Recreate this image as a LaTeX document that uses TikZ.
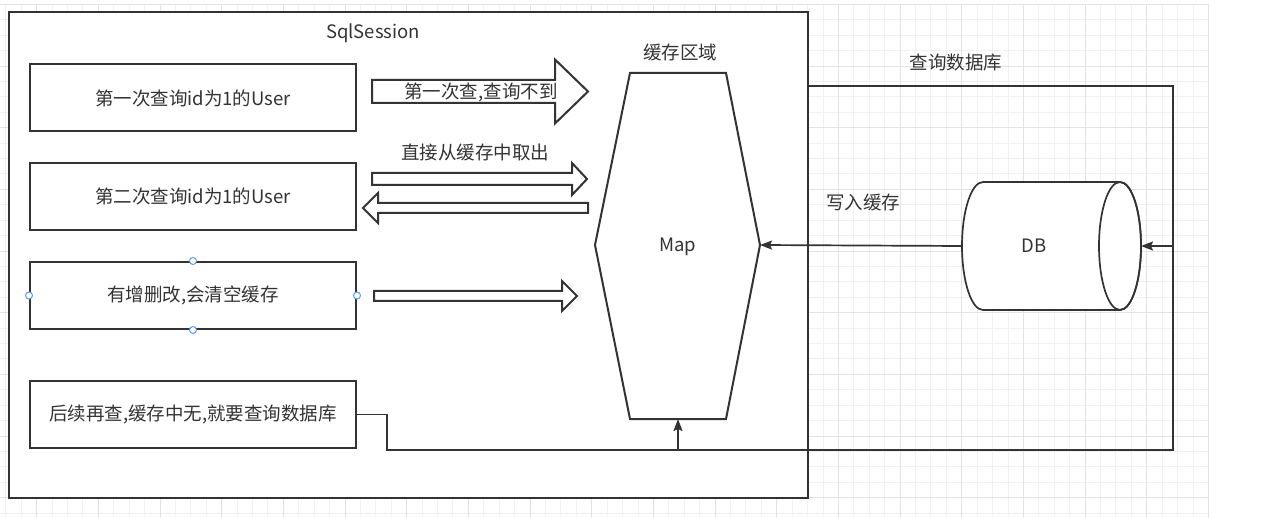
\documentclass[tikz,border=0pt]{standalone}
\usepackage{fontspec}
\setmainfont{Noto Sans CJK SC}
\usetikzlibrary{arrows.meta}
\definecolor{ink}{HTML}{333333}
\definecolor{gmin}{HTML}{F1F1F1}
\definecolor{gmaj}{HTML}{E3E3E3}
\definecolor{handlec}{HTML}{5A9CF8}
% block arrow: x-tail, x-tip, y-centre, half body, half head, head length (negative for a left arrow)
\newcommand{\blkarrow}[6]{%
  \draw[blkarr] ({#1},{#3-#4}) -- ({#2-(#6)},{#3-#4}) -- ({#2-(#6)},{#3-#5}) -- ({#2},{#3})
    -- ({#2-(#6)},{#3+#5}) -- ({#2-(#6)},{#3+#4}) -- ({#1},{#3+#4}) -- cycle;}
\begin{document}
\begin{tikzpicture}[x=1pt,y=-1pt,
  every node/.style={text=ink, font=\fontsize{18.5}{22}\selectfont},
  gminor/.style={draw=gmin, line width=0.8pt},
  gmajor/.style={draw=gmaj, line width=0.8pt},
  box/.style={draw=ink, line width=2pt, fill=white, minimum width=326pt, minimum height=67pt},
  blkarr/.style={draw=ink, line width=2pt, fill=white, line join=miter},
  conn/.style={draw=ink, line width=1.7pt},
  tip/.style={-{Stealth[length=12pt,width=9pt,inset=2pt]}},
  handle/.style={draw=handlec, line width=1pt, fill=white},
  lbl/.style={inner sep=0pt}]
\useasboundingbox (0,0) rectangle (1261,518);
% background grid
\foreach \i in {0,...,78} {\pgfmathsetmacro\gx{5.8+15.417*\i}\draw[gminor] (\gx,4.3) -- (\gx,518);}
\foreach \i in {0,...,33} {\pgfmathsetmacro\gy{4.3+15.417*\i}\draw[gminor] (0,\gy) -- (1208.3,\gy);}
\foreach \i in {0,...,19} {\pgfmathsetmacro\gx{36.6+61.667*\i}\draw[gmajor] (\gx,4.3) -- (\gx,518);}
\foreach \i in {0,...,8} {\pgfmathsetmacro\gy{4.3+61.667*\i}\draw[gmajor] (0,\gy) -- (1208.3,\gy);}

% SqlSession container
\node[draw=ink, line width=2pt, fill=white, minimum width=799pt, minimum height=486pt] (sess) at (408.5,255) {};
\node[lbl] (sesslbl) at (373,33) {SqlSession};

% left boxes
\node[box] (q1) at (193,98) {第一次查询id为1的User};
\node[box] (q2) at (193,196.5) {第二次查询id为1的User};
\node[box] (q3) at (193,295.5) {有增删改,会清空缓存};
\node[box] (q4) at (193,414.5) {后续再查,缓存中无,就要查询数据库};
\foreach \p in {north,south,west,east} \draw[handle] (q3.\p) circle (3.5pt);

% block arrows
\blkarrow{372}{588}{91.5}{11.5}{32}{33}
\blkarrow{372}{587}{179}{6}{16}{15}
\blkarrow{588}{363}{208}{5}{15}{-15}
\blkarrow{374}{577}{296}{5}{15}{15}
\node[lbl] (a1lbl) at (481,92) {第一次查,查询不到};
\node[lbl] (a2lbl) at (475,152) {直接从缓存中取出};

% cache area (Map)
\draw[ink, line width=2pt, fill=white, line join=miter]
  (630,73) -- (726,73) -- (760,245) -- (726,419) -- (630,419) -- (595,245) -- cycle;
\coordinate (hexR) at (760,245);
\coordinate (hexB) at (678,419);
\node[lbl] (map) at (678,247) {Map};
\node[lbl] (cachelbl) at (680,53) {缓存区域};

% DB cylinder
\draw[ink, line width=1.7pt, fill=white]
  (983,182) -- (1120,182) .. controls (1131.6,182) and (1141,210.7) .. (1141,246)
  .. controls (1141,281.3) and (1131.6,310) .. (1120,310) -- (983,310)
  .. controls (971.4,310) and (962,281.3) .. (962,246)
  .. controls (962,210.7) and (971.4,182) .. cycle;
\draw[ink, line width=1.7pt] (1120,246) ellipse [x radius=21pt, y radius=64pt];
\node[lbl] (db) at (1034,246) {DB};
\coordinate (dbL) at (962,246);
\coordinate (dbR) at (1141,246);

% connectors
\coordinate (topq) at (808,86);
\coordinate (rtop) at (1173,86);
\coordinate (rmid) at (1173,246);
\coordinate (rbot) at (1173,450);
\coordinate (bj) at (678,450);
\draw[conn] (topq) -- (rtop) -- (rmid);
\draw[conn, tip] (q4.east) -- ++(30,0) |- (rbot) -- (rmid) -- (dbR);
\draw[conn, tip] (bj) -- (hexB);
\draw[conn, tip] (dbL) -- (hexR);
\node[lbl] (qdblbl) at (956,63) {查询数据库};
\node[lbl] (wrlbl) at (863,203) {写入缓存};
\end{tikzpicture}
\end{document}
